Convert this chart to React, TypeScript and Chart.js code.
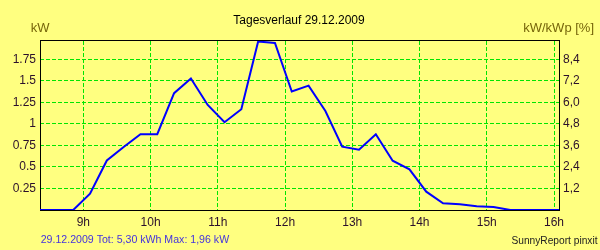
import React, { useEffect, useRef } from "react";
import { Chart, registerables } from "chart.js";

Chart.register(...registerables);

// ---- data ----
const times = [
  "08:21", "08:51", "09:06", "09:21", "09:36", "09:51", "10:06", "10:21", "10:36", "10:51",
  "11:06", "11:21", "11:36", "11:51", "12:06", "12:21", "12:36", "12:51", "13:06", "13:21",
  "13:36", "13:51", "14:06", "14:21", "14:36", "14:51", "15:06", "15:21", "16:05",
];
const powerKW = [
  0, 0, 0.19, 0.575, 0.732, 0.88, 0.88, 1.357, 1.527, 1.22,
  1.02, 1.17, 1.957, 1.94, 1.376, 1.445, 1.15, 0.736, 0.7, 0.88,
  0.573, 0.473, 0.213, 0.078, 0.066, 0.043, 0.035, 0, 0,
];
const hourTicks = [9, 10, 11, 12, 13, 14, 15, 16];
const kwTicks = [0.25, 0.5, 0.75, 1, 1.25, 1.5, 1.75];
const pctTicks = [1.2, 2.4, 3.6, 4.8, 6.0, 7.2, 8.4];
const xMin = 8.356;
const xMax = 16.074;
const kwMax = 1.963;
const pctPerKw = 4.8;

const titleText = "Tagesverlauf 29.12.2009";
const leftAxisTitle = "kW";
const rightAxisTitle = "kW/kWp [%]";
const footerLeft = "29.12.2009 Tot: 5,30 kWh Max: 1,96 kW";
const footerRight = "SunnyReport pinxit";

// ---- styles ----
const FONT = "'Liberation Sans', Arial, sans-serif";
const BG = "#ffff80";
const GRID = "#00e600";
const LINE = "#0000ff";
const TICK = "#2b102b";

const toHours = (t: string) => {
  const [h, m] = t.split(":").map(Number);
  return h + m / 60;
};

const decor = {
  id: "decor",
  beforeDraw(chart: any) {
    const ctx = chart.ctx;
    ctx.save();
    ctx.fillStyle = BG;
    ctx.fillRect(0, 0, chart.width, chart.height);
    ctx.restore();
  },
  beforeDatasetsDraw(chart: any) {
    const ctx = chart.ctx;
    const a = chart.chartArea;
    ctx.save();
    ctx.strokeStyle = "#000";
    ctx.lineWidth = 1;
    ctx.strokeRect(a.left + 0.5, a.top - 0.5, a.right - a.left, a.bottom - a.top + 1);
    ctx.restore();
  },
  afterDraw(chart: any) {
    const ctx = chart.ctx;
    ctx.save();
    ctx.textBaseline = "alphabetic";
    ctx.font = `12px ${FONT}`;
    ctx.fillStyle = "#000";
    ctx.textAlign = "center";
    ctx.fillText(titleText, 299, 24);

    ctx.font = `13px ${FONT}`;
    ctx.fillStyle = "#76650a";
    ctx.textAlign = "left";
    ctx.fillText(leftAxisTitle, 30.7, 32);
    ctx.textAlign = "right";
    ctx.fillText(rightAxisTitle, 594, 31.5);

    ctx.font = `10.6px ${FONT}`;
    ctx.fillStyle = "#4433dd";
    ctx.textAlign = "left";
    ctx.fillText(footerLeft, 40.7, 242.5);

    ctx.font = `10.2px ${FONT}`;
    ctx.fillStyle = "#222";
    ctx.textAlign = "right";
    ctx.fillText(footerRight, 597.5, 244);
    ctx.restore();
  },
};

export default function App() {
  const ref = useRef<HTMLCanvasElement>(null);

  useEffect(() => {
    document.body.style.margin = "0";
    const chart = new Chart(ref.current as HTMLCanvasElement, {
      type: "line",
      data: {
        datasets: [
          {
            data: times.map((t, i) => ({ x: toHours(t), y: powerKW[i] })),
            yAxisID: "y",
            borderColor: LINE,
            backgroundColor: LINE,
            borderWidth: 2,
            pointRadius: 0,
            fill: false,
            tension: 0,
          },
        ],
      },
      options: {
        responsive: false,
        devicePixelRatio: 1,
        animation: false,
        layout: { padding: { top: 41, left: 0, right: 0, bottom: 0 } },
        plugins: {
          legend: { display: false },
          tooltip: { enabled: false },
          title: { display: false },
        },
        scales: {
          x: {
            type: "linear",
            position: "bottom",
            min: xMin,
            max: xMax,
            afterBuildTicks: (s: any) => {
              s.ticks = hourTicks.map((v) => ({ value: v }));
            },
            afterFit: (s: any) => {
              s.height = 40;
            },
            ticks: {
              callback: (v: any) => `${v}h`,
              font: { family: FONT, size: 12 },
              color: TICK,
              padding: 5,
              maxRotation: 0,
              autoSkip: false,
            },
            grid: { color: GRID, lineWidth: 1, drawTicks: false },
            border: { display: false, dash: [4, 2] },
          },
          y: {
            type: "linear",
            position: "left",
            min: 0,
            max: kwMax,
            afterBuildTicks: (s: any) => {
              s.ticks = kwTicks.map((v) => ({ value: v }));
            },
            afterFit: (s: any) => {
              s.width = 40;
            },
            ticks: {
              callback: (v: any) => String(v),
              font: { family: FONT, size: 12 },
              color: TICK,
              padding: 4,
              autoSkip: false,
            },
            grid: { color: GRID, lineWidth: 1, drawTicks: false },
            border: { display: false, dash: [4, 2] },
          },
          y2: {
            type: "linear",
            position: "right",
            min: 0,
            max: kwMax * pctPerKw,
            afterBuildTicks: (s: any) => {
              s.ticks = pctTicks.map((v) => ({ value: v }));
            },
            afterFit: (s: any) => {
              s.width = 41;
            },
            ticks: {
              callback: (v: any) => Number(v).toFixed(1).replace(".", ","),
              font: { family: FONT, size: 12 },
              color: TICK,
              padding: 4,
              autoSkip: false,
            },
            grid: { display: false, drawTicks: false },
            border: { display: false },
          },
        },
      },
      plugins: [decor],
    });
    return () => chart.destroy();
  }, []);

  return (
    <canvas
      ref={ref}
      width={600}
      height={250}
      style={{ display: "block", width: 600, height: 250 }}
    />
  );
}
